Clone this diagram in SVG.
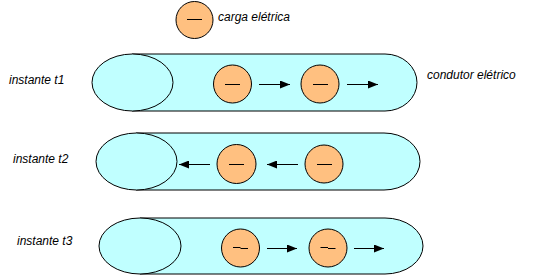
<svg xmlns="http://www.w3.org/2000/svg" width="560" height="275" viewBox="0 0 560 275">
  <style>
    .tube { fill: #C0FFFF; stroke: #000; stroke-width: 1; }
    .charge { fill: #FFC080; stroke: #000; stroke-width: 1; }
    .minus { stroke: #000; stroke-width: 1; fill: none; }
    .arrow { stroke: #000; stroke-width: 1; fill: none; marker-end: url(#head); }
    .lbl { font-family: "Liberation Sans", Arial, sans-serif; font-style: italic; font-size: 12px; fill: #000; }
  </style>
  <defs>
    <marker id="head" viewBox="0 0 10 8" refX="10" refY="4" markerWidth="10" markerHeight="8" markerUnits="userSpaceOnUse" orient="auto">
      <path d="M0,0 L10,4 L0,8 Z" fill="#000"/>
    </marker>
  </defs>
  <rect width="560" height="275" fill="#fff"/>

  <!-- legend -->
  <g id="legend">
    <circle class="charge" cx="194.5" cy="20" r="18.5"/>
    <line class="minus" x1="187" y1="19.5" x2="202" y2="19.5"/>
    <text class="lbl" x="218" y="21">carga elétrica</text>
  </g>

  <!-- row 1 -->
  <g id="label-t1"><text class="lbl" x="9" y="84">instante t1</text></g>
  <g id="label-conductor"><text class="lbl" x="427" y="79">condutor elétrico</text></g>
  <g id="tube-t1">
    <path class="tube" d="M132,54 H385 A32,28.5 0 0 1 385,111 H132 Z"/>
    <ellipse class="tube" cx="132.5" cy="82.5" rx="40.5" ry="28.5"/>
  </g>
  <g id="charge-t1-a">
    <circle class="charge" cx="232.5" cy="84" r="19"/>
    <line class="minus" x1="225" y1="84.5" x2="240" y2="84.5"/>
  </g>
  <g id="charge-t1-b">
    <circle class="charge" cx="320" cy="84" r="19"/>
    <line class="minus" x1="313" y1="84.5" x2="328" y2="84.5"/>
  </g>

  <!-- row 2 -->
  <g id="label-t2"><text class="lbl" x="13" y="163">instante t2</text></g>
  <g id="tube-t2">
    <path class="tube" d="M136,133 H384 A36,28.5 0 0 1 384,190 H136 Z"/>
    <ellipse class="tube" cx="136.5" cy="161.5" rx="40.5" ry="28.5"/>
  </g>
  <g id="charge-t2-a">
    <circle class="charge" cx="236.5" cy="164" r="19.5"/>
    <line class="minus" x1="229" y1="164.5" x2="244" y2="164.5"/>
  </g>
  <g id="charge-t2-b">
    <circle class="charge" cx="324" cy="164" r="19"/>
    <line class="minus" x1="317" y1="164.5" x2="332" y2="164.5"/>
  </g>

  <!-- row 3 -->
  <g id="label-t3"><text class="lbl" x="17" y="245">instante t3</text></g>
  <g id="tube-t3">
    <path class="tube" d="M140,218 H385 A38,28 0 0 1 385,274 H140 Z"/>
    <ellipse class="tube" cx="140" cy="246" rx="41" ry="28"/>
  </g>
  <g id="charge-t3-a">
    <circle class="charge" cx="240.5" cy="248" r="19"/>
    <path class="minus" d="M233,247.5 H240.5 M240.5,248.5 H248"/>
  </g>
  <g id="charge-t3-b">
    <circle class="charge" cx="328" cy="248" r="19"/>
    <path class="minus" d="M320.5,247.5 H328 M328,248.5 H335.5"/>
  </g>

  <!-- connectors -->
  <g id="connectors">
    <line class="arrow" x1="259" y1="84.5" x2="290" y2="84.5"/>
    <line class="arrow" x1="347" y1="84.5" x2="378" y2="84.5"/>
    <line class="arrow" x1="210" y1="164.5" x2="179" y2="164.5"/>
    <line class="arrow" x1="298" y1="164.5" x2="267" y2="164.5"/>
    <line class="arrow" x1="267" y1="248.5" x2="297" y2="248.5"/>
    <line class="arrow" x1="354" y1="248.5" x2="384" y2="248.5"/>
  </g>
</svg>
